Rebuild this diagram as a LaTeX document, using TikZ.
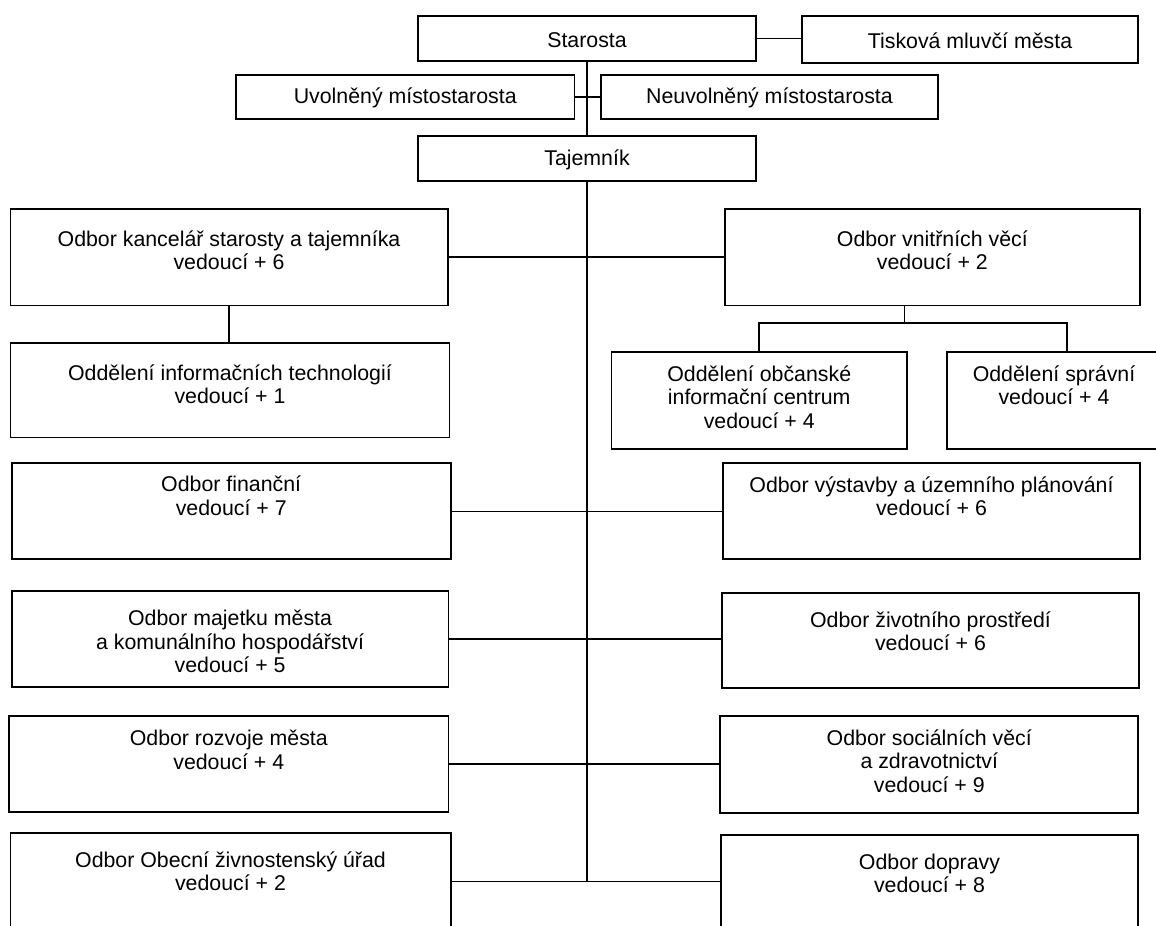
\documentclass[tikz,border=0pt]{standalone}
\usepackage{fontspec}
\setmainfont{Liberation Sans}
\usetikzlibrary{fit}

\begin{document}
\begin{tikzpicture}[x=0.75pt, y=-0.75pt,
   box/.style={draw=black, line width=1.35pt, inner sep=0pt},
   txt/.style={anchor=north, inner sep=0pt, align=center},
   link/.style={draw=black, line width=1.2pt},
   font={\fontsize{16}{17.6}\selectfont}]
	  \useasboundingbox (0,0) rectangle (1156,925);

	  % vedeni
	  \node [box, fit={(418,15.7) (756,61)}] (star) {};
	  \node [box, fit={(802,15.7) (1138,63)}] (tisk) {};
	  \node [box, fit={(236,75) (574.5,119)}] (uvol) {};
	  \node [box, fit={(601,75) (938,119)}] (neuv) {};
	  \node [box, fit={(418,136) (756,181)}] (taj) {};

	  \node (star-t) at ([yshift=-1pt]star.center) {Starosta};
	  \node (tisk-t) at ([yshift=-1pt]tisk.center) {Tisková mluvčí města};
	  \node (uvol-t) at ([yshift=-1pt]uvol.center) {Uvolněný místostarosta};
	  \node (neuv-t) at ([yshift=-1pt]neuv.center) {Neuvolněný místostarosta};
	  \node (taj-t) at ([yshift=-1pt]taj.center) {Tajemník};

	  % odbory
	  \node [box, fit={(10.4,209) (447.6,305.5)}] (kanc) {};
	  \node [box, fit={(724.7,209) (1140,305.5)}] (vnit) {};
	  \node [box, fit={(10.4,343) (449.5,437.5)}] (it) {};
	  \node [box, fit={(611.5,352) (907,449)}] (obc) {};
	  \node [box, fit={(947,352) (1161,449)}] (spr) {};
	  \node [box, fit={(11.8,463.3) (450.6,559.3)}] (fin) {};
	  \node [box, fit={(722.9,463.3) (1140,559.3)}] (vyst) {};
	  \node [box, fit={(11.8,591) (448.4,687)}] (maj) {};
	  \node [box, fit={(722,593) (1139,688.3)}] (ziv) {};
	  \node [box, fit={(9.2,716) (448.4,812.3)}] (rozv) {};
	  \node [box, fit={(720.3,716) (1138.3,812.7)}] (soc) {};
	  \node [box, fit={(10.4,833.3) (450.6,929.3)}] (obec) {};
	  \node [box, fit={(721,835.3) (1138,931)}] (dopr) {};

	  \node [txt] (kanc-t) at ([yshift=-16.5pt]kanc.north) {Odbor kancelář starosty a tajemníka\\vedoucí + 6};
	  \node [txt] (vnit-t) at ([yshift=-16.5pt]vnit.north) {Odbor vnitřních věcí\\vedoucí + 2};
	  \node [txt] (it-t) at ([yshift=-16.5pt]it.north) {Oddělení informačních technologií\\vedoucí + 1};
	  \node [txt] (obc-t) at ([yshift=-10.5pt]obc.north) {Oddělení občanské\\informační centrum\\vedoucí + 4};
	  \node [txt] (spr-t) at ([yshift=-10.5pt]spr.north) {Oddělení správní\\vedoucí + 4};
	  \node [txt] (fin-t) at ([yshift=-10pt]fin.north) {Odbor finanční\\vedoucí + 7};
	  \node [txt] (vyst-t) at ([yshift=-10.5pt]vyst.north) {Odbor výstavby a územního plánování\\vedoucí + 6};
	  \node [txt] (maj-t) at ([yshift=-15pt]maj.north) {Odbor majetku města\\a komunálního hospodářství\\vedoucí + 5};
	  \node [txt] (ziv-t) at ([yshift=-14.25pt]ziv.north) {Odbor životního prostředí\\vedoucí + 6};
	  \node [txt] (rozv-t) at ([yshift=-11pt]rozv.north) {Odbor rozvoje města\\vedoucí + 4};
	  \node [txt] (soc-t) at ([yshift=-10.5pt]soc.north) {Odbor sociálních věcí\\a zdravotnictví\\vedoucí + 9};
	  \node [txt] (obec-t) at ([yshift=-14.25pt]obec.north) {Odbor Obecní živnostenský úřad\\vedoucí + 2};
	  \node [txt] (dopr-t) at ([yshift=-14.25pt]dopr.north) {Odbor dopravy\\vedoucí + 8};

	  \coordinate (vstem) at (904.5,323);
	  \coordinate (sprleg) at (1067,352);

	  % spojnice
	  \draw [link] (star.east) -- (tisk.west |- star.east);
	  \draw [link] (star.south) -- (taj.north);
	  \draw [link] (uvol.east) -- (neuv.west);
	  \draw [link] (taj.south) -- (taj.south |- obec.east);
	  \draw [link] (kanc.south) -- (kanc.south |- it.north);
	  \draw [link] (vnit.south -| vstem) -- (vstem);
	  \draw [link] (obc.north) |- (vstem) -| (sprleg);

	  \foreach \from/\to in {kanc/vnit, fin/vyst, maj/ziv, rozv/soc, obec/dopr}
	    \draw [link] (\from.east) -- (\from.east -| \to.west);

	\end{tikzpicture}
\end{document}
